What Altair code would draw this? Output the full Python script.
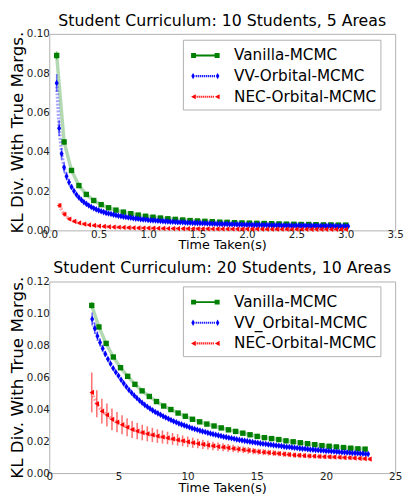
import altair as alt
import pandas as pd

# ---------------- data ----------------
NAMES_TOP = ["Vanilla-MCMC", "VV-Orbital-MCMC", "NEC-Orbital-MCMC"]
NAMES_BOT = ["Vanilla-MCMC", "VV_Orbital-MCMC", "NEC-Orbital-MCMC"]

TOP_VAN_X = [0.075, 0.15, 0.225, 0.3, 0.375, 0.45, 0.525, 0.6, 0.675, 0.75,
             0.825, 0.9, 0.975, 1.05, 1.125, 1.2, 1.275, 1.35, 1.425, 1.5,
             1.575, 1.65, 1.725, 1.8, 1.875, 1.95, 2.025, 2.1, 2.175, 2.25,
             2.325, 2.4, 2.475, 2.55, 2.625, 2.7, 2.775, 2.85, 2.925, 3.0]
TOP_VAN_Y = [0.089, 0.045, 0.0305, 0.0228, 0.0183, 0.0152, 0.0131, 0.0115, 0.0103, 0.0093,
             0.0085, 0.0078, 0.0072, 0.0067, 0.0063, 0.0059, 0.0056, 0.0053, 0.0050, 0.0048,
             0.0046, 0.0044, 0.0042, 0.0041, 0.0039, 0.0038, 0.0037, 0.0036, 0.0035, 0.0034,
             0.0033, 0.0032, 0.0031, 0.0030, 0.0030, 0.0029, 0.0028, 0.0028, 0.0027, 0.0027]
TOP_VAN_ERR = [0.002, 0.0015, 0.001]

TOP_VV_X = [0.075, 0.1, 0.125, 0.15, 0.175, 0.2, 0.225, 0.25, 0.275, 0.3,
            0.325, 0.35, 0.375, 0.4, 0.425, 0.45, 0.475, 0.5, 0.525, 0.55,
            0.575, 0.6, 0.625, 0.65, 0.675, 0.7, 0.725, 0.75, 0.775, 0.8,
            0.825, 0.85, 0.875, 0.9, 0.925, 0.95, 0.975, 1.0, 1.025, 1.05,
            1.075, 1.1, 1.125, 1.15, 1.175, 1.2, 1.225, 1.25, 1.275, 1.3,
            1.325, 1.35, 1.375, 1.4, 1.425, 1.45, 1.475, 1.5, 1.525, 1.55,
            1.575, 1.6, 1.625, 1.65, 1.675, 1.7, 1.725, 1.75, 1.775, 1.8,
            1.825, 1.85, 1.875, 1.9, 1.925, 1.95, 1.975, 2.0, 2.025, 2.05,
            2.075, 2.1, 2.125, 2.15, 2.175, 2.2, 2.225, 2.25, 2.275, 2.3,
            2.325, 2.35, 2.375, 2.4, 2.425, 2.45, 2.475, 2.5, 2.525, 2.55,
            2.575, 2.6, 2.625, 2.65, 2.675, 2.7, 2.725, 2.75, 2.775, 2.8,
            2.825, 2.85, 2.875, 2.9, 2.925, 2.95, 2.975, 3.0, 3.025]
TOP_VV_Y = [0.075, 0.052, 0.039, 0.032, 0.0275, 0.0245, 0.0221, 0.0200, 0.0182, 0.0167,
            0.0155, 0.0144, 0.0135, 0.0127, 0.0119, 0.0113, 0.0107, 0.0102, 0.0097, 0.0093,
            0.0089, 0.0086, 0.0083, 0.0080, 0.0077, 0.0074, 0.0072, 0.0070, 0.0068, 0.0066,
            0.0064, 0.0062, 0.0060, 0.0059, 0.0057, 0.0056, 0.0055, 0.0053, 0.0052, 0.0051,
            0.0050, 0.0049, 0.0048, 0.0047, 0.0046, 0.0045, 0.0044, 0.0044, 0.0043, 0.0042,
            0.0041, 0.0041, 0.0040, 0.0039, 0.0039, 0.0038, 0.0038, 0.0037, 0.0037, 0.0036,
            0.0036, 0.0035, 0.0035, 0.0034, 0.0034, 0.0033, 0.0033, 0.0032, 0.0032, 0.0032,
            0.0031, 0.0031, 0.0031, 0.0030, 0.0030, 0.0030, 0.0029, 0.0029, 0.0029, 0.0028,
            0.0028, 0.0028, 0.0028, 0.0027, 0.0027, 0.0027, 0.0026, 0.0026, 0.0026, 0.0026,
            0.0026, 0.0025, 0.0025, 0.0025, 0.0025, 0.0024, 0.0024, 0.0024, 0.0024, 0.0024,
            0.0024, 0.0023, 0.0023, 0.0023, 0.0023, 0.0023, 0.0022, 0.0022, 0.0022, 0.0022,
            0.0022, 0.0022, 0.0022, 0.0021, 0.0021, 0.0021, 0.0021, 0.0021, 0.0021]
TOP_VV_ERR = [0.0045, 0.004, 0.003, 0.0025, 0.002, 0.0016, 0.0013, 0.0011]

TOP_NEC_X = [0.1, 0.15, 0.2, 0.25, 0.3, 0.35, 0.4, 0.45, 0.5, 0.55,
             0.6, 0.65, 0.7, 0.75, 0.8, 0.85, 0.9, 0.95, 1.0, 1.05,
             1.1, 1.15, 1.2, 1.25, 1.3, 1.35, 1.4, 1.45, 1.5, 1.55,
             1.6, 1.65, 1.7, 1.75, 1.8, 1.85, 1.9, 1.95, 2.0, 2.05,
             2.1, 2.15, 2.2, 2.25, 2.3, 2.35, 2.4, 2.45, 2.5, 2.55,
             2.6, 2.65, 2.7, 2.75, 2.8, 2.85, 2.9, 2.95, 3.0]
TOP_NEC_Y = [0.0127, 0.0082, 0.0058, 0.0046, 0.0038, 0.0032, 0.0028, 0.0025, 0.0022, 0.0020,
             0.0018, 0.0017, 0.0016, 0.0015, 0.0014, 0.0013, 0.00125, 0.0012, 0.00115, 0.0011,
             0.00105, 0.0010, 0.00097, 0.00094, 0.00091, 0.00088, 0.00085, 0.00083, 0.00081, 0.00079,
             0.00077, 0.00076, 0.00074, 0.00073, 0.00071, 0.0007, 0.00069, 0.00068, 0.00067, 0.00066,
             0.00065, 0.00064, 0.00063, 0.00062, 0.00061, 0.0006, 0.00059, 0.00058, 0.00057, 0.00057,
             0.00056, 0.00055, 0.00055, 0.00054, 0.00053, 0.00053, 0.00052, 0.00052, 0.00051]
TOP_NEC_ERR = [0.0012, 0.001, 0.0008, 0.0006]

BOT_VAN_X = [3.07, 3.59, 4.11, 4.63, 5.15, 5.67, 6.19, 6.71, 7.23, 7.75,
             8.27, 8.79, 9.31, 9.83, 10.35, 10.87, 11.39, 11.91, 12.43, 12.95,
             13.47, 13.99, 14.51, 15.03, 15.55, 16.07, 16.59, 17.11, 17.63, 18.15,
             18.67, 19.19, 19.71, 20.23, 20.75, 21.27, 21.79, 22.31, 22.83]
BOT_VAN_Y = [0.105, 0.0915, 0.0812, 0.0727, 0.066, 0.0606, 0.0556, 0.0515, 0.048, 0.0448,
             0.042, 0.0398, 0.0376, 0.0356, 0.0337, 0.0321, 0.0307, 0.0295, 0.0283, 0.0271,
             0.0261, 0.025, 0.024, 0.023, 0.0222, 0.0216, 0.021, 0.0202, 0.0196, 0.019,
             0.0184, 0.0178, 0.0172, 0.0168, 0.0164, 0.016, 0.0156, 0.0152, 0.015]
BOT_VAN_ERR = [0.002, 0.0015]

BOT_VV_X = [3.1, 3.29, 3.48, 3.67, 3.86, 4.05, 4.24, 4.43, 4.62, 4.81,
            5.0, 5.19, 5.38, 5.57, 5.76, 5.95, 6.14, 6.33, 6.52, 6.71,
            6.9, 7.09, 7.28, 7.47, 7.66, 7.85, 8.04, 8.23, 8.42, 8.61,
            8.8, 8.99, 9.18, 9.37, 9.56, 9.75, 9.94, 10.13, 10.32, 10.51,
            10.7, 10.89, 11.08, 11.27, 11.46, 11.65, 11.84, 12.03, 12.22, 12.41,
            12.6, 12.79, 12.98, 13.17, 13.36, 13.55, 13.74, 13.93, 14.12, 14.31,
            14.5, 14.69, 14.88, 15.07, 15.26, 15.45, 15.64, 15.83, 16.02, 16.21,
            16.4, 16.59, 16.78, 16.97, 17.16, 17.35, 17.54, 17.73, 17.92, 18.11,
            18.3, 18.49, 18.68, 18.87, 19.06, 19.25, 19.44, 19.63, 19.82, 20.01,
            20.2, 20.39, 20.58, 20.77, 20.96, 21.15, 21.34, 21.53, 21.72, 21.91,
            22.1, 22.29, 22.48, 22.67, 22.86, 23.05]
BOT_VV_Y = [0.0965, 0.0906, 0.0858, 0.0818, 0.0780, 0.0746, 0.0714, 0.0685, 0.0657, 0.0632,
            0.0610, 0.0585, 0.0562, 0.0541, 0.0521, 0.0503, 0.0486, 0.0470, 0.0455, 0.0441,
            0.0427, 0.0415, 0.0404, 0.0393, 0.0383, 0.0374, 0.0365, 0.0356, 0.0348, 0.0340,
            0.0332, 0.0325, 0.0318, 0.0311, 0.0305, 0.0299, 0.0293, 0.0287, 0.0281, 0.0276,
            0.0271, 0.0266, 0.0261, 0.0257, 0.0252, 0.0248, 0.0244, 0.0240, 0.0236, 0.0232,
            0.0228, 0.0225, 0.0221, 0.0218, 0.0215, 0.0211, 0.0208, 0.0205, 0.0202, 0.0200,
            0.0197, 0.0194, 0.0192, 0.0189, 0.0186, 0.0184, 0.0182, 0.0179, 0.0177, 0.0175,
            0.0173, 0.0171, 0.0169, 0.0166, 0.0164, 0.0163, 0.0161, 0.0159, 0.0157, 0.0155,
            0.0153, 0.0152, 0.0150, 0.0148, 0.0147, 0.0145, 0.0144, 0.0142, 0.0141, 0.0139,
            0.0138, 0.0137, 0.0135, 0.0134, 0.0132, 0.0131, 0.0130, 0.0129, 0.0127, 0.0126,
            0.0125, 0.0124, 0.0123, 0.0122, 0.0120, 0.0119]
BOT_VV_ERR = [0.004, 0.0035, 0.003, 0.0025, 0.002, 0.0018]

BOT_NEC_X = [3.07, 3.435, 3.8, 4.165, 4.53, 4.895, 5.26, 5.625, 5.99, 6.355,
             6.72, 7.085, 7.45, 7.815, 8.18, 8.545, 8.91, 9.275, 9.64, 10.005,
             10.37, 10.735, 11.1, 11.465, 11.83, 12.195, 12.56, 12.925, 13.29, 13.655,
             14.02, 14.385, 14.75, 15.115, 15.48, 15.845, 16.21, 16.575, 16.94, 17.305,
             17.67, 18.035, 18.4, 18.765, 19.13, 19.495, 19.86, 20.225, 20.59, 20.955,
             21.32, 21.685, 22.05, 22.415, 22.78, 23.145]
BOT_NEC_Y = [0.0505, 0.0434, 0.0388, 0.0364, 0.0337, 0.0319, 0.0303, 0.0287, 0.0273, 0.0263,
             0.0254, 0.0246, 0.0239, 0.0232, 0.0226, 0.0220, 0.0214, 0.0208, 0.0202, 0.0196,
             0.0190, 0.0185, 0.0180, 0.0175, 0.0170, 0.0166, 0.0162, 0.0158, 0.0154, 0.0150,
             0.0146, 0.0142, 0.0138, 0.0134, 0.0131, 0.0128, 0.0125, 0.0122, 0.0119, 0.0116,
             0.0113, 0.0111, 0.0109, 0.0107, 0.0106, 0.0104, 0.0103, 0.0102, 0.0100, 0.0099,
             0.0097, 0.0096, 0.0094, 0.0092, 0.0090, 0.0088]
BOT_NEC_ERR = [0.0125, 0.0085, 0.0078, 0.0072, 0.0068, 0.0064, 0.0060, 0.0057, 0.0054, 0.0051,
               0.0049, 0.0047, 0.0045, 0.0043, 0.0041, 0.0039, 0.0037, 0.0036, 0.0034, 0.0033,
               0.0032, 0.0030, 0.0029, 0.0028, 0.0027, 0.0026, 0.0025, 0.0024, 0.0023, 0.0022,
               0.0021, 0.0021, 0.0020, 0.0019, 0.0019, 0.0018, 0.0018, 0.0017, 0.0017, 0.0016,
               0.0016, 0.0015, 0.0015, 0.0015, 0.0014, 0.0014, 0.0014, 0.0013, 0.0013, 0.0013,
               0.0012, 0.0012, 0.0012, 0.0012, 0.0011, 0.0011]

TOP_X_TICKS = [0.0, 0.5, 1.0, 1.5, 2.0, 2.5, 3.0, 3.5]
TOP_Y_TICKS = [0.0, 0.02, 0.04, 0.06, 0.08, 0.10]
BOT_X_TICKS = [0, 5, 10, 15, 20, 25]
BOT_Y_TICKS = [0.0, 0.02, 0.04, 0.06, 0.08, 0.10, 0.12]

# ---------------- styles ----------------
FONT = "DejaVu Sans"
GREEN, BLUE, RED = "#008000", "#0000ff", "#ff0000"
COLORS = [GREEN, BLUE, RED]
THIN_DIAMOND = "M0,-1L0.6,0L0,1L-0.6,0Z"

LEG_GREEN = ("M-0.64,-0.21H-0.22V0.21H-0.64Z M1.36,-0.21H1.78V0.21H1.36Z "
             "M-0.22,-0.08H1.36V0.08H-0.22Z")
LEG_BLUE = ("M-0.47,-0.27L-0.32,0L-0.47,0.27L-0.62,0Z M1.61,-0.27L1.76,0L1.61,0.27L1.46,0Z "
            "M-0.25,-0.09H-0.15V0.09H-0.25Z M-0.08,-0.09H0.02V0.09H-0.08Z M0.09,-0.09H0.19V0.09H0.09Z "
            "M0.26,-0.09H0.36V0.09H0.26Z M0.43,-0.09H0.53V0.09H0.43Z M0.6,-0.09H0.7V0.09H0.6Z "
            "M0.77,-0.09H0.87V0.09H0.77Z M0.94,-0.09H1.04V0.09H0.94Z M1.11,-0.09H1.21V0.09H1.11Z "
            "M1.28,-0.09H1.38V0.09H1.28Z")
LEG_RED = ("M-0.64,0L-0.24,-0.22L-0.24,0.22Z M1.38,0L1.78,-0.22L1.78,0.22Z "
           "M-0.17,-0.09H-0.07V0.09H-0.17Z M0.0,-0.09H0.1V0.09H0.0Z M0.17,-0.09H0.27V0.09H0.17Z "
           "M0.34,-0.09H0.44V0.09H0.34Z M0.51,-0.09H0.61V0.09H0.51Z M0.68,-0.09H0.78V0.09H0.68Z "
           "M0.85,-0.09H0.95V0.09H0.85Z M1.02,-0.09H1.12V0.09H1.02Z M1.19,-0.09H1.29V0.09H1.19Z")
LEG_PATHS = [LEG_GREEN, LEG_BLUE, LEG_RED]

for a, b in [(TOP_VAN_X, TOP_VAN_Y), (TOP_VV_X, TOP_VV_Y), (TOP_NEC_X, TOP_NEC_Y),
             (BOT_VAN_X, BOT_VAN_Y), (BOT_VV_X, BOT_VV_Y), (BOT_NEC_X, BOT_NEC_Y)]:
    assert len(a) == len(b), (len(a), len(b))
assert len(BOT_NEC_ERR) == len(BOT_NEC_X)


def panel(title, names, series, xdom, xticks, xfmt, ydom, yticks, lx, ly, w, h):
    xs = alt.Scale(domain=xdom, nice=False, zero=False)
    ys = alt.Scale(domain=ydom, nice=False, zero=False)
    x_axis = alt.Axis(
        values=xticks, format=xfmt, title="Time Taken(s)", titleFontSize=13,
        titleFont=FONT, titleFontWeight="normal", titleColor="black", titlePadding=-1,
        labelFont=FONT, labelFontSize=10.5, labelColor="#222", labelPadding=-1,
        labelFlush=False, labelOverlap=False, domain=False, ticks=False, tickSize=0,
        grid=False, minExtent=0)
    y_axis = alt.Axis(
        values=yticks, format=".2f", title="KL Div. With True Margs.", titleFontSize=17,
        titleFont=FONT, titleFontWeight="normal", titleColor="black", titlePadding=0,
        labelFont=FONT, labelFontSize=10.5, labelColor="#222", labelPadding=0,
        labelFlush=False, labelOverlap=False, domain=False, ticks=False, tickSize=0,
        grid=False, minExtent=0)
    x_enc = alt.X("t:Q", scale=xs, axis=x_axis)
    y_enc = alt.Y("kl:Q", scale=ys, axis=y_axis)

    layers = []
    frames = []
    for name, (sx, sy, se, color, shape, size, dash, lop) in zip(names, series):
        d = pd.DataFrame({"t": sx, "kl": sy})
        d["method"] = name
        frames.append(d)
        if se:
            n = len(se)
            e = pd.DataFrame({"t": sx[:n],
                              "lo": [v - s for v, s in zip(sy[:n], se)],
                              "hi": [v + s for v, s in zip(sy[:n], se)]})
            layers.append(alt.Chart(e).mark_rule(color=color, opacity=0.55, strokeWidth=1.6)
                          .encode(x=x_enc, y=alt.Y("lo:Q", scale=ys, axis=y_axis), y2="hi:Q"))
        lkw = dict(color=color, strokeWidth=3.5, opacity=lop)
        if dash:
            lkw["strokeDash"] = dash
        layers.append(alt.Chart(d).mark_line(**lkw).encode(x=x_enc, y=y_enc))
        layers.append(alt.Chart(d).mark_point(shape=shape, filled=True, size=size,
                                              color=color, opacity=1, strokeWidth=0)
                      .encode(x=x_enc, y=y_enc))

    allpts = pd.concat(frames, ignore_index=True)
    leg = alt.Legend(title=None, orient="none", legendX=lx, legendY=ly,
                     symbolSize=576, symbolOpacity=1, symbolStrokeWidth=0,
                     labelFont=FONT, labelFontSize=15.5, labelColor="black",
                     labelOffset=24, padding=4, rowPadding=0,
                     strokeColor="#b0b0b0", fillColor="white", cornerRadius=0,
                     labelLimit=300)
    layers.append(alt.Chart(allpts).mark_point(filled=True, opacity=0).encode(
        x=x_enc, y=y_enc,
        color=alt.Color("method:N", scale=alt.Scale(domain=names, range=COLORS), legend=leg),
        shape=alt.Shape("method:N", scale=alt.Scale(domain=names, range=LEG_PATHS), legend=leg)))

    return alt.layer(*layers).properties(
        width=w, height=h,
        title=alt.TitleParams(title, fontSize=16, font=FONT, fontWeight="normal",
                              color="black", anchor="middle", offset=0, frame="group"))


top_series = [
    (TOP_VAN_X, TOP_VAN_Y, TOP_VAN_ERR, GREEN, "square", 30, None, 0.3),
    (TOP_VV_X, TOP_VV_Y, TOP_VV_ERR, BLUE, THIN_DIAMOND, 45, [2, 1.5], 0.35),
    (TOP_NEC_X, TOP_NEC_Y, TOP_NEC_ERR, RED, "triangle-left", 28, [2, 1.5], 0.35),
]
bot_series = [
    (BOT_VAN_X, BOT_VAN_Y, BOT_VAN_ERR, GREEN, "square", 30, None, 0.3),
    (BOT_VV_X, BOT_VV_Y, BOT_VV_ERR, BLUE, THIN_DIAMOND, 45, [2, 1.5], 0.35),
    (BOT_NEC_X, BOT_NEC_Y, BOT_NEC_ERR, RED, "triangle-left", 28, [2, 1.5], 0.35),
]

top = panel("Student Curriculum: 10 Students, 5 Areas", NAMES_TOP, top_series,
            [0, 3.5], TOP_X_TICKS, ".1f", [0, 0.10], TOP_Y_TICKS, 136, 6, 352, 200)
bot = panel("Student Curriculum: 20 Students, 10 Areas", NAMES_BOT, bot_series,
            [0, 25], BOT_X_TICKS, "d", [0, 0.12], BOT_Y_TICKS, 136, 5, 352, 195)

chart = (alt.vconcat(top, bot, spacing=8)
         .resolve_scale(color="independent", shape="independent")
         .resolve_legend(color="independent", shape="independent")
         .configure_view(stroke="#b0b0b0", strokeWidth=1)
         .properties(padding={"left": 0, "top": 0, "right": 0, "bottom": -3},
                     background="white"))

chart.save("out.html", embed_options={"renderer": "svg", "actions": False})
